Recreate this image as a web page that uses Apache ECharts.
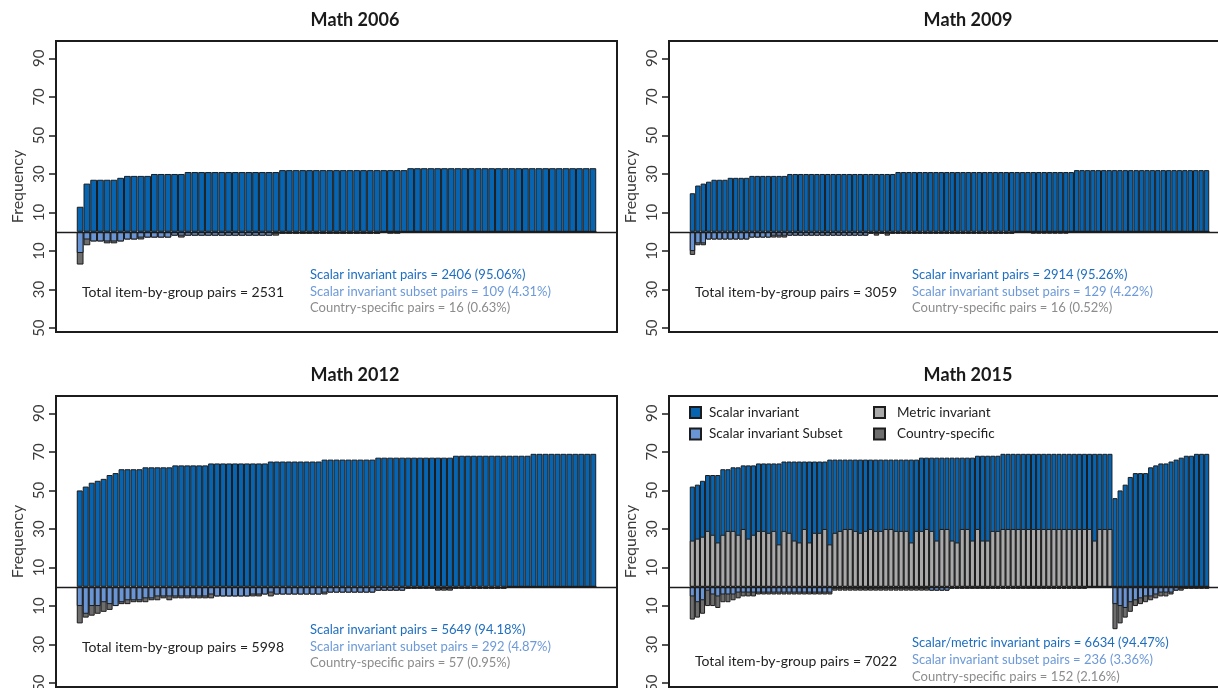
<!DOCTYPE html>
<html><head><meta charset="utf-8">
<script src="https://cdn.jsdelivr.net/npm/echarts@6/dist/echarts.min.js"></script>
<style>html,body{margin:0;padding:0;background:#fff}#c{width:1218px;height:688px}</style>
</head><body><div id="c"></div>
<script>
// ---------------- DATA ----------------
const titles = ['Math 2006', 'Math 2009', 'Math 2012', 'Math 2015'];
const yTickValues = [-50, -30, -10, 10, 30, 50, 70, 90];

// Math 2006 (77 items)
const scalar2006 = [
  13,25,27,27,27,27,28,29,29,29, 29,30,30,30,30,30,31,31,31,31,
  31,31,31,31,31,31,31,31,31,31, 32,32,32,32,32,32,32,32,32,32,
  32,32,32,32,32,32,32,32,32,33, 33,33,33,33,33,33,33,33,33,33,
  33,33,33,33,33,33,33,33,33,33, 33,33,33,33,33,33,33];
const subset2006 = [
  11,4,5,5,5,5,5,4,4,3, 3,3,3,3,2,2,2,2,2,2,
  2,2,2,2,2,2,2,2,2,1, 1,1,1,1,1,1,1,1,1,1,
  1,1,1,1,1,0,0,0,0,0, 0,0,0,0,0,0,0,0,0,0,
  0,0,0,0,0,0,0,0,0,0, 0,0,0,0,0,0,0];
const cs2006 = [
  6,3,0,0,1,1,0,0,0,1, 0,0,0,0,0,1,0,0,0,0,
  0,0,0,0,0,0,0,0,0,1, 0,0,0,0,0,0,0,0,0,0,
  0,0,0,0,0,0,1,1,0,0, 0,0,0,0,0,0,0,0,0,0,
  0,0,0,0,0,0,0,0,0,0, 0,0,0,0,0,0,0];

// Math 2009 (96 items)
const scalar2009 = [
  20,24,25,26,27,27,27,28,28,28, 28,29,29,29,29,29,29,29,30,30,
  30,30,30,30,30,30,30,30,30,30, 30,30,30,30,30,30,30,30,31,31,
  31,31,31,31,31,31,31,31,31,31, 31,31,31,31,31,31,31,31,31,31,
  31,31,31,31,31,31,31,31,31,31, 31,32,32,32,32,32,32,32,32,32,
  32,32,32,32,32,32,32,32,32,32, 32,32,32,32,32,32];
const subset2009 = [
  10,6,6,4,4,4,4,4,4,4, 4,3,3,3,3,2,2,2,2,2,
  2,2,2,2,2,2,2,2,2,2, 2,2,2,1,1,1,1,1,1,1,
  1,1,1,1,1,1,1,1,1,1, 1,1,1,1,1,1,1,1,1,1,
  0,0,0,0,0,0,0,0,0,0, 0,0,0,0,0,0,0,0,0,0,
  0,0,0,0,0,0,0,0,0,0, 0,0,0,0,0,0];
const cs2009 = [
  2,1,1,0,0,0,0,0,0,0, 0,0,0,0,0,1,1,1,0,0,
  0,0,0,0,0,0,0,0,0,0, 0,0,0,0,1,0,1,0,0,0,
  0,0,0,0,0,0,0,0,0,0, 0,0,0,0,0,0,0,0,0,0,
  0,0,0,1,1,1,1,1,1,1, 0,0,0,0,0,0,0,0,0,0,
  0,0,0,0,0,0,0,0,0,0, 0,0,0,0,0,0];

// Math 2012 (87 items)
const scalar2012 = [
  50,52,54,55,56,58,59,61,61,61, 61,62,62,62,62,62,63,63,63,63,
  63,63,64,64,64,64,64,64,64,64, 64,64,65,65,65,65,65,65,65,65,
  65,66,66,66,66,66,66,66,66,66, 67,67,67,67,67,67,67,67,67,67,
  67,67,67,68,68,68,68,68,68,68, 68,68,68,68,68,68,69,69,69,69,
  69,69,69,69,69,69,69];
const subset2012 = [
  10,14,10,10,8,9,10,8,7,7, 7,6,6,5,5,5,5,5,5,5,
  5,5,4,5,5,5,5,5,5,4, 4,4,3,4,4,4,4,4,4,4,
  4,3,3,3,3,3,3,3,3,3, 2,2,2,2,2,1,1,1,1,1,
  1,1,1,1,1,1,1,1,1,1, 1,1,0,0,0,0,0,0,0,0,
  0,0,0,0,0,0,0];
const cs2012 = [
  9,2,5,4,5,3,0,1,2,1, 1,2,1,2,1,2,1,1,1,1,
  1,1,2,0,0,0,0,0,0,1, 1,0,2,0,0,0,0,0,0,0,
  0,1,0,0,0,0,0,0,0,0, 0,0,0,0,0,0,0,0,0,0,
  1,1,1,0,0,0,0,0,0,0, 0,0,0,0,0,0,0,0,0,0,
  0,0,0,0,0,0,0];

// Math 2015 (102 items): scalar + metric invariant stacked above zero
const invariantTotal2015 = [
  52,53,55,58,58,58,61,61,62,62, 63,63,63,64,64,64,64,64,65,65,
  65,65,65,65,65,65,65,66,66,66, 66,66,66,66,66,66,66,66,66,66,
  66,66,66,66,66,67,67,67,67,67, 67,67,67,67,67,67,68,68,68,68,
  68,69,69,69,69,69,69,69,69,69, 69,69,69,69,69,69,69,69,69,69,
  69,69,69,46,50,53,57,59,59,59, 62,63,64,64,65,66,67,68,68,69,
  69,69];
const metric2015 = [
  24,25,26,29,27,23,27,29,29,27, 30,25,27,29,29,28,29,22,29,28,
  24,23,30,23,28,28,30,22,28,29, 30,30,29,28,29,30,29,29,30,30,
  29,29,29,23,29,29,30,29,24,30, 30,24,23,30,30,24,30,24,24,29,
  29,30,30,30,30,30,30,30,30,30, 30,30,30,30,30,30,30,30,30,24,
  30,30,30,0,0,0,0,0,0,0, 0,0,0,0,0,0,0,0,0,0,
  0,0];
const subset2015 = [
  5,8,7,2,4,5,4,4,4,3, 3,3,3,3,3,3,3,3,3,3,
  3,3,3,3,3,3,3,3,1,1, 1,1,1,1,1,1,1,1,1,1,
  1,1,1,1,1,1,1,2,2,2, 2,1,1,1,1,1,1,1,1,1,
  1,1,1,1,1,1,1,1,1,1, 1,1,1,1,1,1,1,1,0,0,
  0,0,0,9,10,11,8,7,6,5, 5,4,3,3,3,2,1,1,1,1,
  1,1];
const cs2015 = [
  12,8,7,8,6,6,4,4,3,3, 2,2,2,1,1,1,1,1,1,1,
  1,1,1,1,1,1,1,1,1,1, 1,1,1,1,1,1,1,1,1,1,
  1,1,1,1,1,1,1,0,0,0, 0,0,0,0,0,0,0,0,0,0,
  0,0,0,0,0,0,0,0,0,0, 0,0,0,0,0,0,0,0,0,0,
  0,0,0,13,9,5,5,3,3,3, 2,2,2,2,1,0,1,0,0,0,
  0,0];

const totalPairs = [2531, 3059, 5998, 7022];
const scalarPairs = [2406, 2914, 5649, 6634];
const subsetPairs = [109, 129, 292, 236];
const csPairs = [16, 16, 57, 152];
const scalarLabel = ['Scalar invariant pairs', 'Scalar invariant pairs', 'Scalar invariant pairs', 'Scalar/metric invariant pairs'];
const legendNames = ['Scalar invariant', 'Scalar invariant Subset', 'Metric invariant', 'Country-specific'];

// ---------------- STYLE / LAYOUT ----------------
const C_SCALAR = '#0764B0', C_SUBSET = '#6A95D5', C_METRIC = '#A9A9A9', C_CS = '#6E6E6E';
const T_SCALAR = '#1E6EC0', T_SUBSET = '#6C99D9', T_CS = '#8C8C8C';
const FONT = 'Lato, "Open Sans", sans-serif';
const BORDER = '#1c1c1c';

const panels = [
  {pos: scalar2006, subset: subset2006, cs: cs2006, metric: null},
  {pos: scalar2009, subset: subset2009, cs: cs2009, metric: null},
  {pos: scalar2012, subset: subset2012, cs: cs2012, metric: null},
  {pos: invariantTotal2015, subset: subset2015, cs: cs2015, metric: metric2015}
];
const layout = [
  {left: 56, top: 41, totalX: 82, totalY: 292, sumX: 310, sumY: [275, 291.5, 307.5]},
  {left: 669, top: 41, totalX: 695, totalY: 292, sumX: 912, sumY: [275, 291.5, 307.5]},
  {left: 56, top: 396, totalX: 82, totalY: 647, sumX: 310, sumY: [630, 646.5, 663]},
  {left: 669, top: 396, totalX: 695, totalY: 661, sumX: 912, sumY: [643, 660, 676.5]}
];
const GW = 561, GH = 291, YMIN = -52, YMAX = 99;

const grids = [], xAxes = [], yAxes = [], series = [], graphics = [];
const pct = (a, b) => (100 * a / b).toFixed(2) + '%';

panels.forEach((p, k) => {
  const L = layout[k];
  const n = p.pos.length;
  const pad = 0.04 * n;              // R-style 4% padding on each side of the bar range
  const xOf = i => pad + i + 0.5;     // item position on the x scale
  grids.push({left: L.left, top: L.top, width: GW, height: GH, show: true, containLabel: false,
    outerBoundsMode: 'none', borderColor: BORDER, borderWidth: 2, backgroundColor: 'transparent'});
  xAxes.push({type: 'value', gridIndex: k, min: 0, max: n + 2 * pad, show: false});
  yAxes.push({type: 'value', gridIndex: k, min: YMIN, max: YMAX, position: 'left',
    axisLine: {show: true, onZero: true, lineStyle: {color: BORDER, width: 2}}, splitLine: {show: false},
    axisTick: {show: true, inside: false, length: 7, lineStyle: {color: BORDER, width: 1.5}, customValues: yTickValues},
    axisLabel: {customValues: yTickValues, formatter: v => String(Math.abs(v)), rotate: 90, margin: 9,
      fontSize: 15, color: '#3a3a3a', fontFamily: FONT},
    name: 'Frequency', nameLocation: 'middle', nameGap: 30,
    nameTextStyle: {fontSize: 16, color: '#3a3a3a', fontFamily: FONT}});
  const common = {type: 'bar', xAxisIndex: k, yAxisIndex: k, barWidth: '100%', barGap: '-100%',
    animation: false, silent: true};
  const bStyle = c => ({color: c, borderColor: BORDER, borderWidth: 1});
  series.push(Object.assign({}, common, {name: 'Scalar invariant', itemStyle: bStyle(C_SCALAR),
    data: p.pos.map((v, i) => [xOf(i), v]),
    markLine: {silent: true, symbol: 'none', label: {show: false}, animation: false,
      lineStyle: {color: BORDER, type: 'solid', width: 1.3}, data: [{yAxis: 0}]}}));
  if (p.metric) {
    series.push(Object.assign({}, common, {name: 'Metric invariant', itemStyle: bStyle(C_METRIC),
      data: p.metric.map((v, i) => [xOf(i), v])}));
  }
  series.push(Object.assign({}, common, {name: 'Country-specific', itemStyle: bStyle(C_CS),
    data: p.cs.map((v, i) => [xOf(i), -(v + p.subset[i])])}));
  series.push(Object.assign({}, common, {name: 'Scalar invariant Subset', itemStyle: bStyle(C_SUBSET),
    data: p.subset.map((v, i) => [xOf(i), -v])}));

  graphics.push({type: 'text', x: L.left + GW / 2 + 18.5, y: L.top - 21,
    style: {text: titles[k], font: 'bold 18px ' + FONT, fill: '#1a1a1a', textAlign: 'center', textVerticalAlign: 'middle'}});
  graphics.push({type: 'text', x: L.totalX, y: L.totalY,
    style: {text: 'Total item-by-group pairs = ' + totalPairs[k], font: '14px ' + FONT, fill: '#222',
      textVerticalAlign: 'middle'}});
  const lines = [
    [scalarLabel[k] + ' = ' + scalarPairs[k] + ' (' + pct(scalarPairs[k], totalPairs[k]) + ')', T_SCALAR],
    ['Scalar invariant subset pairs = ' + subsetPairs[k] + ' (' + pct(subsetPairs[k], totalPairs[k]) + ')', T_SUBSET],
    ['Country-specific pairs = ' + csPairs[k] + ' (' + pct(csPairs[k], totalPairs[k]) + ')', T_CS]
  ];
  lines.forEach((ln, j) => graphics.push({type: 'text', x: L.sumX, y: L.sumY[j],
    style: {text: ln[0], font: '13px ' + FONT, fill: ln[1], textVerticalAlign: 'middle'}}));
});

const legendCommon = {orient: 'vertical', itemWidth: 11, itemHeight: 11, itemGap: 7.5, icon: 'rect',
  selectedMode: false, padding: 0};
const legends = [
  Object.assign({}, legendCommon, {data: [legendNames[0], legendNames[1]], left: 689, top: 405.5,
    textStyle: {fontSize: 13.5, color: '#222', fontFamily: FONT, padding: [0, 0, 0, 3]}}),
  Object.assign({}, legendCommon, {data: [legendNames[2], legendNames[3]], left: 873, top: 405.5,
    textStyle: {fontSize: 13.5, color: '#222', fontFamily: FONT, padding: [0, 0, 0, 7]}})
];

const chart = echarts.init(document.getElementById('c'), null, {renderer: 'canvas'});
chart.setOption({animation: false, textStyle: {fontFamily: FONT},
  grid: grids, xAxis: xAxes, yAxis: yAxes, series: series, legend: legends, graphic: graphics});
</script></body></html>
